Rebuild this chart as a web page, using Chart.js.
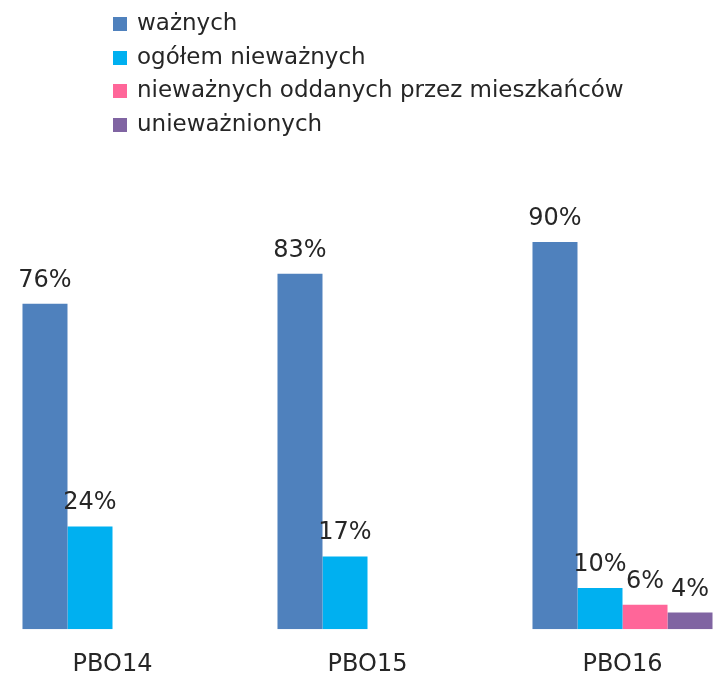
<!DOCTYPE html>
<html lang="pl">
<head>
<meta charset="utf-8">
<title>PBO</title>
<script src="https://cdn.jsdelivr.net/npm/chart.js@4"></script>
<style>
  html, body { margin: 0; padding: 0; background: #fff; overflow: hidden; width: 715px; height: 676px; }
  #wrap { position: absolute; left: -15px; top: 0; width: 765px; height: 693px; }
  #legenda { position: absolute; left: 113px; top: 0; font-family: "DejaVu Sans", sans-serif; font-size: 23px; color: #262626; }
  #legenda div { position: absolute; white-space: nowrap; height: 33px; line-height: 33px; }
  #legenda span { display: inline-block; width: 14px; height: 14px; margin-right: 10px; vertical-align: -1px; }
</style>
</head>
<body>
<div id="wrap"><canvas id="chartPBO"></canvas></div>
<div id="legenda"></div>
<script>
const edycje = ["PBO14", "PBO15", "PBO16"];
const wazne = [76, 83, 90.4];
const niewazneOgolem = [24, 17, 9.6];
const niewazneMieszkancy = [null, null, 5.7];
const uniewaznione = [null, null, 3.9];

const nazwySerii = ["ważnych", "ogółem nieważnych", "nieważnych oddanych przez mieszkańców", "unieważnionych"];
const kolory = ["#4F81BD", "#00B0F0", "#FF6699", "#8064A2"];

// etykiety z procentami nad słupkami
const etykiety = {
  id: "etykiety",
  afterDatasetsDraw(chart) {
    const ctx = chart.ctx;
    ctx.save();
    ctx.font = "24px 'DejaVu Sans', sans-serif";
    ctx.fillStyle = "#262626";
    ctx.textAlign = "center";
    ctx.textBaseline = "alphabetic";
    chart.data.datasets.forEach((ds, i) => {
      chart.getDatasetMeta(i).data.forEach((bar, j) => {
        const v = ds.data[j];
        if (v === null) return;
        ctx.fillText(Math.round(v) + "%", bar.x, bar.y - 17);
      });
    });
    ctx.restore();
  }
};

const chart = new Chart(document.getElementById("chartPBO"), {
  type: "bar",
  data: {
    labels: edycje,
    datasets: [wazne, niewazneOgolem, niewazneMieszkancy, uniewaznione].map((d, i) => ({
      label: nazwySerii[i],
      data: d,
      backgroundColor: kolory[i],
      borderWidth: 0,
      categoryPercentage: 0.706,
      barPercentage: 1
    }))
  },
  options: {
    responsive: true,
    maintainAspectRatio: false,
    animation: false,
    layout: { padding: { top: 201, bottom: 0, left: 0, right: 0 } },
    plugins: { legend: { display: false }, tooltip: { enabled: false } },
    scales: {
      x: {
        grid: { display: false },
        border: { display: false },
        ticks: { padding: 13.5, color: "#262626", font: { family: "'DejaVu Sans', sans-serif", size: 24 } }
      },
      y: { display: false, min: 0, max: 100 }
    }
  },
  plugins: [etykiety]
});

// legenda w kolumnie
const legenda = document.getElementById("legenda");
chart.data.datasets.forEach((ds, i) => {
  const row = document.createElement("div");
  row.style.top = (6 + i * 33.5) + "px";
  row.innerHTML = `<span style="background:${ds.backgroundColor}"></span>${ds.label}`;
  legenda.appendChild(row);
});
</script>
</body>
</html>
